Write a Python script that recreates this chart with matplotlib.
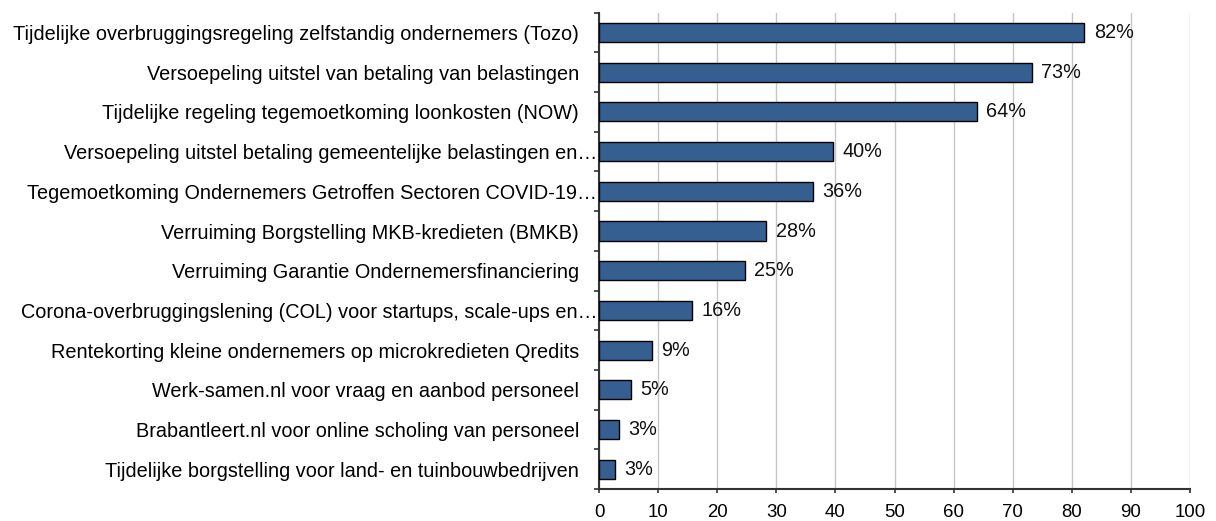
import numpy as np
import matplotlib.pyplot as plt
import matplotlib.transforms as mtransforms

# gegevens (van boven naar beneden)
regelingen = [
    "Tijdelijke overbruggingsregeling zelfstandig ondernemers (Tozo)",
    "Versoepeling uitstel van betaling van belastingen",
    "Tijdelijke regeling tegemoetkoming loonkosten (NOW)",
    "Versoepeling uitstel betaling gemeentelijke belastingen en\u2026",
    "Tegemoetkoming Ondernemers Getroffen Sectoren COVID-19\u2026",
    "Verruiming Borgstelling MKB-kredieten (BMKB)",
    "Verruiming Garantie Ondernemersfinanciering",
    "Corona-overbruggingslening (COL) voor startups, scale-ups en\u2026",
    "Rentekorting kleine ondernemers op microkredieten Qredits",
    "Werk-samen.nl voor vraag en aanbod personeel",
    "Brabantleert.nl voor online scholing van personeel",
    "Tijdelijke borgstelling voor land- en tuinbouwbedrijven",
]
percentages = [82.1, 73.2, 63.9, 39.6, 36.2, 28.3, 24.7, 15.8, 8.9, 5.4, 3.4, 2.7]
labels = ["82%", "73%", "64%", "40%", "36%", "28%", "25%", "16%", "9%", "5%", "3%", "3%"]
x_ticks = list(range(0, 101, 10))

plt.rcParams['font.family'] = ['Liberation Sans', 'DejaVu Sans']
fs = 14.3

fig = plt.figure(figsize=(12.16, 5.21), dpi=100)
ax = fig.add_axes([0.4926, 0.0614, 0.4861, 0.9142])

n = len(regelingen)
y = np.arange(n)[::-1]
ax.barh(y, percentages, height=0.48, color='#365F91', edgecolor='black', linewidth=1, zorder=3)

for yi, v, lab in zip(y, percentages, labels):
    ax.text(v + 1.6, yi, lab, va='center', ha='left', fontsize=fs, color='#111111')

ax.set_xlim(0, 100)
ax.set_ylim(-0.5, n - 0.5)
ax.set_xticks(x_ticks)
ax.set_yticks(y)
ax.set_yticklabels(regelingen, fontsize=fs)
ax.set_yticks(np.arange(-0.5, n, 1), minor=True)
ax.tick_params(axis='y', which='major', length=0, pad=14.4)
ax.tick_params(axis='y', which='minor', length=3.5, color='#333333', width=1.2)
ax.tick_params(axis='x', length=3, color='#333333', width=1.2, pad=8, labelsize=13.4)

# afgekapte labels lopen door tot aan de as
for t in ax.get_yticklabels():
    if t.get_text().endswith('\u2026'):
        t.set_transform(t.get_transform() + mtransforms.ScaledTranslation(13 / 72, 0, fig.dpi_scale_trans))

ax.grid(axis='x', color='#c6c6c6', linewidth=1, zorder=0)
for s in ['top', 'right']:
    ax.spines[s].set_visible(False)
for s in ['left', 'bottom']:
    ax.spines[s].set_color('#333333')
    ax.spines[s].set_linewidth(1.5)

plt.savefig('out.png', dpi=100)
